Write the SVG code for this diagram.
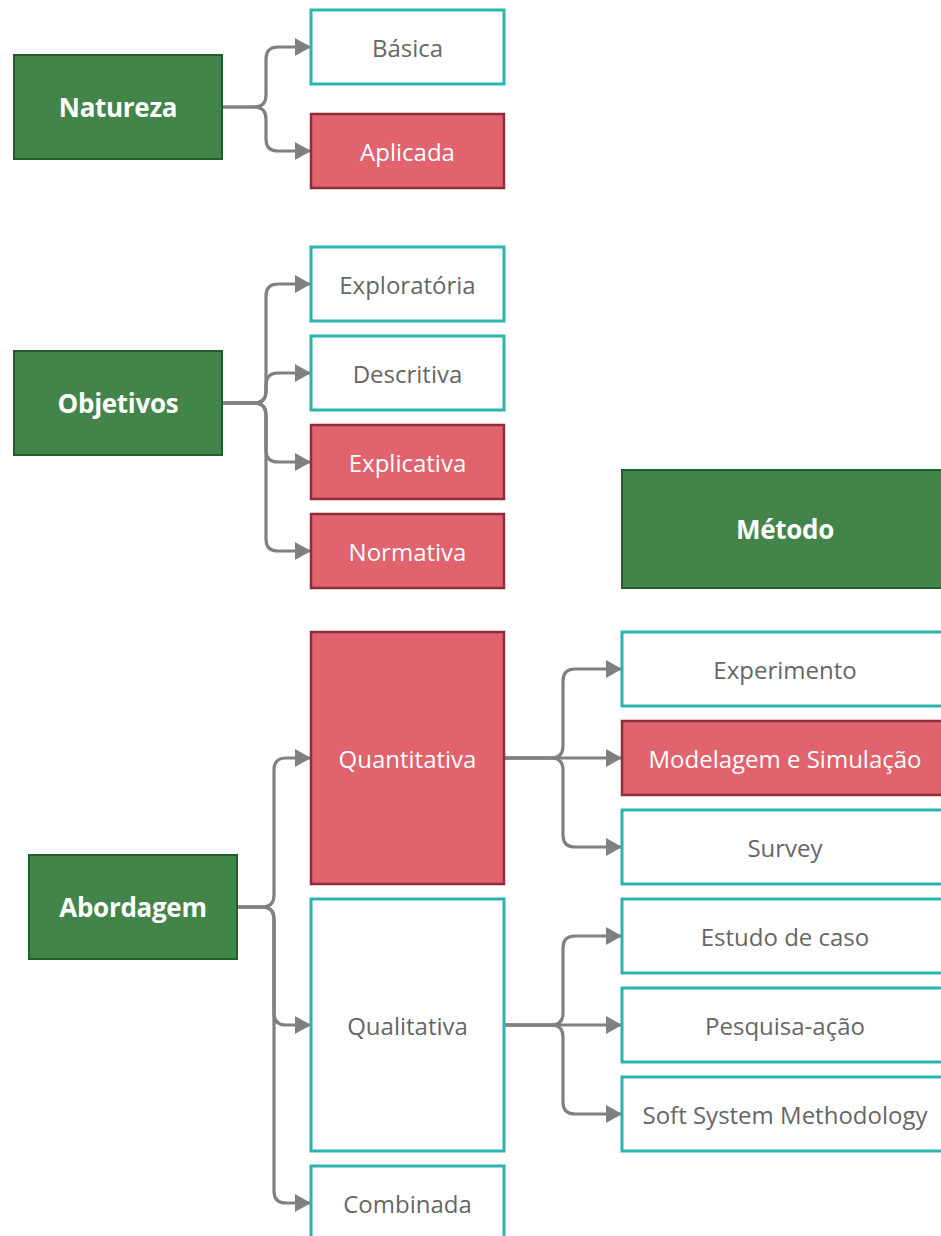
<svg xmlns="http://www.w3.org/2000/svg" width="941" height="1236" viewBox="0 0 941 1236">
<defs>
<style>
.main rect{fill:#43844b;stroke:#215f2a;stroke-width:2}
.main text{fill:#fff;font-family:"Open Sans","Liberation Sans",sans-serif;font-size:26px;font-weight:700;text-anchor:middle;dominant-baseline:central;letter-spacing:-0.3px}
.w rect{fill:#fff;stroke:#2ab3b0;stroke-width:3}
.w text{fill:#666;font-family:"Open Sans","Liberation Sans",sans-serif;font-size:24px;text-anchor:middle;dominant-baseline:central}
.r rect{fill:#e0636e;stroke:#8b2f38;stroke-width:2.5}
.r text{fill:#fff;font-family:"Open Sans","Liberation Sans",sans-serif;font-size:24px;text-anchor:middle;dominant-baseline:central}
.c path{fill:none;stroke:#808080;stroke-width:3.2;marker-end:url(#ah)}
</style>
<marker id="ah" markerUnits="userSpaceOnUse" markerWidth="18" markerHeight="20" refX="16" refY="9" orient="auto">
<path d="M0,0 L16,9 L0,18 z" fill="#808080"/>
</marker>
</defs>
<g class="c" id="connectors">
<path d="M222,107 H254 Q266,107 266,95 V59 Q266,47 278,47 H311"/>
<path d="M222,107 H254 Q266,107 266,119 V139 Q266,151 278,151 H311"/>
<path d="M222,403 H254 Q266,403 266,391 V296 Q266,284 278,284 H311"/>
<path d="M222,403 H254 Q266,403 266,391 V385 Q266,373 278,373 H311"/>
<path d="M222,403 H254 Q266,403 266,415 V450 Q266,462 278,462 H311"/>
<path d="M222,403 H254 Q266,403 266,415 V539 Q266,551 278,551 H311"/>
<path d="M237,907 H262 Q274,907 274,895 V770 Q274,758 286,758 H311"/>
<path d="M237,907 H262 Q274,907 274,919 V1013 Q274,1025 286,1025 H311"/>
<path d="M237,907 H262 Q274,907 274,919 V1191 Q274,1203 286,1203 H311"/>
<path d="M504,758 H551 Q563,758 563,746 V681 Q563,669 575,669 H622"/>
<path d="M504,758 H622"/>
<path d="M504,758 H551 Q563,758 563,770 V835 Q563,847 575,847 H622"/>
<path d="M504,1025 H551 Q563,1025 563,1013 V948 Q563,936 575,936 H622"/>
<path d="M504,1025 H622"/>
<path d="M504,1025 H551 Q563,1025 563,1037 V1102 Q563,1114 575,1114 H622"/>
</g>
<g id="natureza" class="main"><rect x="14" y="55" width="208" height="104"/><text x="118" y="107">Natureza</text></g>
<g id="basica" class="w"><rect x="311" y="10" width="193" height="74"/><text x="407.5" y="47">Básica</text></g>
<g id="aplicada" class="r"><rect x="311" y="114" width="193" height="74"/><text x="407.5" y="151">Aplicada</text></g>
<g id="objetivos" class="main"><rect x="14" y="351" width="208" height="104"/><text x="118" y="403">Objetivos</text></g>
<g id="exploratoria" class="w"><rect x="311" y="247" width="193" height="74"/><text x="407.5" y="284">Exploratória</text></g>
<g id="descritiva" class="w"><rect x="311" y="336" width="193" height="74"/><text x="407.5" y="373">Descritiva</text></g>
<g id="explicativa" class="r"><rect x="311" y="425" width="193" height="74"/><text x="407.5" y="462">Explicativa</text></g>
<g id="normativa" class="r"><rect x="311" y="514" width="193" height="74"/><text x="407.5" y="551">Normativa</text></g>
<g id="metodo" class="main"><rect x="622" y="470" width="326" height="118"/><text x="785" y="529">Método</text></g>
<g id="abordagem" class="main"><rect x="29" y="855" width="208" height="104"/><text x="133" y="907">Abordagem</text></g>
<g id="quantitativa" class="r"><rect x="311" y="632" width="193" height="252"/><text x="407.5" y="758">Quantitativa</text></g>
<g id="qualitativa" class="w"><rect x="311" y="899" width="193" height="252"/><text x="407.5" y="1025">Qualitativa</text></g>
<g id="combinada" class="w"><rect x="311" y="1166" width="193" height="100"/><text x="407.5" y="1203">Combinada</text></g>
<g id="experimento" class="w"><rect x="622" y="632" width="326" height="74"/><text x="785" y="669">Experimento</text></g>
<g id="modelagem" class="r"><rect x="622" y="721" width="326" height="74"/><text x="785" y="758">Modelagem e Simulação</text></g>
<g id="survey" class="w"><rect x="622" y="810" width="326" height="74"/><text x="785" y="847">Survey</text></g>
<g id="estudo" class="w"><rect x="622" y="899" width="326" height="74"/><text x="785" y="936">Estudo de caso</text></g>
<g id="pesquisa" class="w"><rect x="622" y="988" width="326" height="74"/><text x="785" y="1025">Pesquisa-ação</text></g>
<g id="ssm" class="w"><rect x="622" y="1077" width="326" height="74"/><text x="785" y="1114">Soft System Methodology</text></g>
</svg>
